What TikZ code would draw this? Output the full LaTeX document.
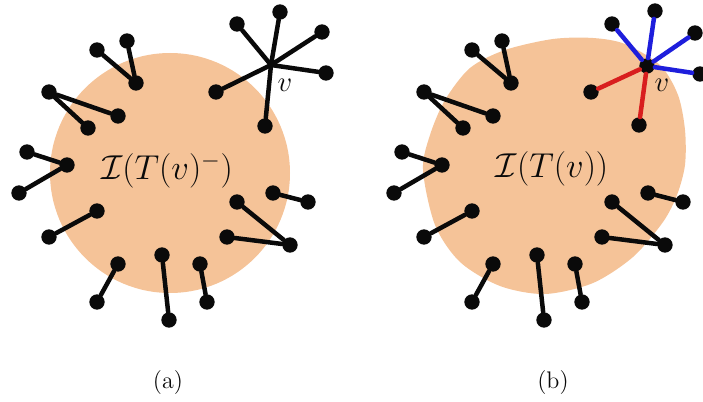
\documentclass[tikz,border=0pt]{standalone}
\usepackage{amsmath,amssymb}
\usetikzlibrary{positioning}
\definecolor{peach}{HTML}{F5C398}
\definecolor{ink}{HTML}{0A0A0A}
\definecolor{cut}{HTML}{D81E1E}
\definecolor{keep}{HTML}{1E1EDC}
\tikzset{
  dot/.style={circle, fill=ink, inner sep=0pt, minimum size=9.2pt},
  edge/.style={draw=ink, line width=2.7pt, line cap=round},
  blob/.style={fill=peach, draw=none},
  setlab/.style={font=\fontsize{22}{26}\selectfont, text=ink},
  vlab/.style={font=\LARGE, text=ink},
  caplab/.style={font=\Large, text=ink},
}
% leaves hanging off the set, same in both panels
\newcommand{\leaves}[1]{%
  \foreach \i/\px/\py in {1/97/50, 2/127/41, 3/136/83, 4/49/92, 5/118/116,
      6/88/128, 7/27/152, 8/19/193, 9/67/165, 10/97/211, 11/49/237,
      12/118/264, 13/97/302, 14/162/255, 15/169/320, 16/200/264, 17/207/302,
      18/273/193, 19/308/202, 20/237/202, 21/227/237, 22/290/245}
    \node[dot] (#1\i) at (\px,\py) {};
  \foreach \a/\b in {1/3, 2/3, 4/5, 4/6, 7/9, 8/9, 10/11, 12/13, 14/15,
      16/17, 18/19, 20/22, 21/22}
    \draw[edge] (#1\a) -- (#1\b);
}

\begin{document}
\begin{tikzpicture}[x=0.6pt, y=-0.6pt]
  \useasboundingbox (0,0) rectangle (703,402);

  % (a)
  \fill[blob] (170,173) circle [radius=120];
  \leaves{a}
  \coordinate (av) at (271,65);
  \foreach \i/\px/\py in {1/237/24, 2/280/12, 3/322/32, 4/326/73, 5/216/92, 6/265/126}
    \node[dot] (as\i) at (\px,\py) {};
  \foreach \i in {1,...,6}
    \draw[edge] (av) -- (as\i);
  \node[setlab] (aset) at (167,171) {$\mathcal{I}(T(v)^-)$};
  \node[vlab] (avlab) at ([shift={(14,20)}]av) {$v$};
  \node[caplab] (capa) at (168,383) {(a)};

  % (b)
  \begin{scope}[shift={(375,0)}]
    \fill[blob] plot[smooth cycle] coordinates {(48,170) (55,135) (70,100)
      (95,68) (130,50) (178,39) (218,38) (250,44) (285,65) (303,95)
      (310,130) (310,165) (302,195) (288,222) (258,257) (218,283)
      (170,294) (125,286) (85,262) (60,225)};
    \leaves{b}
    \node[dot] (bv) at (272,66) {};
    \foreach \i/\px/\py in {1/237/24, 2/280/11, 3/320/33, 4/325/74, 5/216/92, 6/264/125}
      \node[dot] (bs\i) at (\px,\py) {};
    \foreach \i in {1,...,4}
      \draw[edge, draw=keep] (bv) -- (bs\i);
    \foreach \i in {5,6}
      \draw[edge, draw=cut] (bv) -- (bs\i);
    \node[setlab] (bset) at (177,169) {$\mathcal{I}(T(v))$};
    \node[vlab] (bvlab) at ([shift={(15,19)}]bv) {$v$};
    \node[caplab] (capb) at (178,383) {(b)};
  \end{scope}
\end{tikzpicture}
\end{document}
